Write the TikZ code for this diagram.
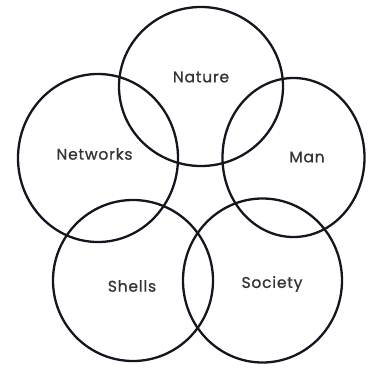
\documentclass[tikz,border=0pt]{standalone}
\usepackage{fontspec}
\setmainfont{Poppins}
\newfontfamily\lblfont{Poppins}[FakeBold=0.8,LetterSpace=5]
\begin{document}
\begin{tikzpicture}[x=1pt,y=-1pt,
  ring/.style={draw=ringcol,line width=2.3pt},
  lbl/.style={text=textcol,font=\lblfont\fontsize{15.5}{17}\selectfont,inner sep=0pt}]
\definecolor{ringcol}{HTML}{15151F}
\definecolor{textcol}{HTML}{333333}
\useasboundingbox (0,0) rectangle (369,375);
\draw[ring] (201,86.5) ellipse [x radius=82, y radius=79.5];
\draw[ring] (98,158) ellipse [x radius=80, y radius=84];
\draw[ring] (293.5,157.5) ellipse [x radius=71, y radius=79.5];
\draw[ring] (133,280.5) ellipse [x radius=80, y radius=80.5];
\draw[ring] (262.5,280.5) ellipse [x radius=79.5, y radius=82];
\node[lbl] (nature) at (201,77) {Nature};
\node[lbl] (networks) at (94.5,154) {Networks};
\node[lbl] (man) at (307,157) {Man};
\node[lbl] (shells) at (132,286) {Shells};
\node[lbl] (society) at (272,284) {Society};
\end{tikzpicture}
\end{document}
